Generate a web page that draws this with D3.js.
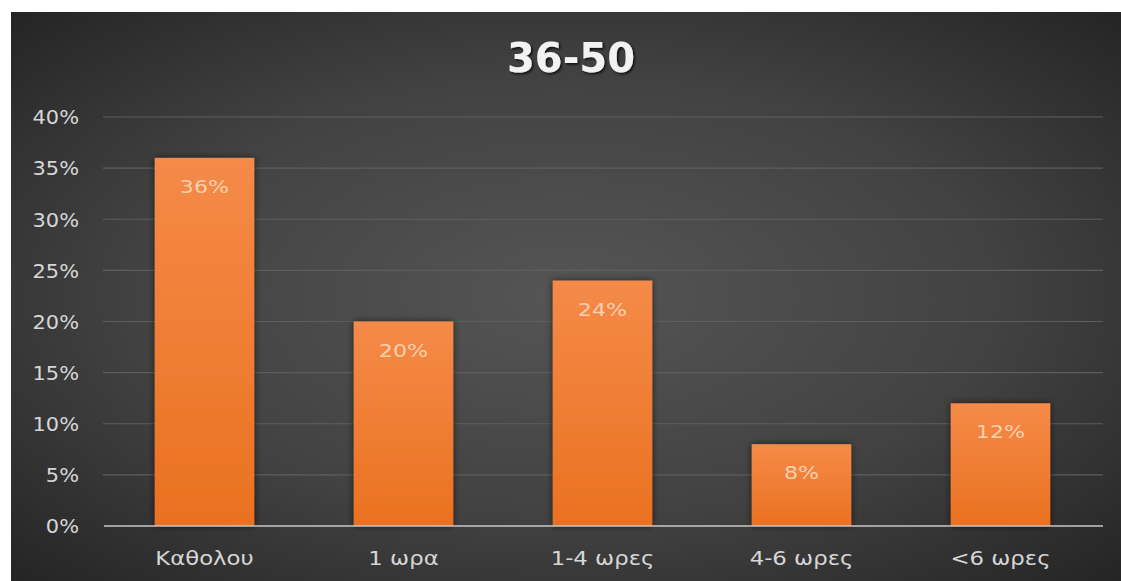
<!DOCTYPE html>
<html>
<head>
<meta charset="utf-8">
<script src="https://cdn.jsdelivr.net/npm/d3@7"></script>
<style>
  html, body { margin: 0; padding: 0; background: #ffffff; }
  svg { display: block; }
</style>
</head>
<body>
<svg id="chart" width="1121" height="581"></svg>
<script>
// Chart content
const title = "36-50";
const categories = ["Καθολου", "1 ωρα", "1-4 ωρες", "4-6 ωρες", "<6 ωρες"];
const values = [0.36, 0.20, 0.24, 0.08, 0.12];
const yTicks = [0, 0.05, 0.10, 0.15, 0.20, 0.25, 0.30, 0.35, 0.40];

const W = 1121, H = 581;
const panel = { x: 11, y: 12, w: W - 11, h: H - 12 };
const plot = { left: 105, right: 1100, top: 117, bottom: 526 };
const FONT = "DejaVu Sans, Verdana, sans-serif";
const WIDE = "scale(1.2,1)";   // the chart's text is set slightly wide

const svg = d3.select("#chart");
const defs = svg.append("defs");

// Dark radial background
const bg = defs.append("radialGradient").attr("id", "bgGrad")
  .attr("cx", "50%").attr("cy", "50%").attr("r", "70%");
bg.append("stop").attr("offset", "0%").attr("stop-color", "#555555");
bg.append("stop").attr("offset", "55%").attr("stop-color", "#424242");
bg.append("stop").attr("offset", "100%").attr("stop-color", "#252525");

// Bar fill gradient
const barGrad = defs.append("linearGradient").attr("id", "barGrad")
  .attr("x1", 0).attr("y1", 0).attr("x2", 0).attr("y2", 1);
barGrad.append("stop").attr("offset", "0%").attr("stop-color", "#f58a48");
barGrad.append("stop").attr("offset", "100%").attr("stop-color", "#ea7120");

// Soft dark shadow around bars
const sh = defs.append("filter").attr("id", "barShadow")
  .attr("x", "-30%").attr("y", "-30%").attr("width", "160%").attr("height", "160%");
sh.append("feDropShadow").attr("dx", 0).attr("dy", 0).attr("stdDeviation", 3.5)
  .attr("flood-color", "#000").attr("flood-opacity", 0.6);

// Title shadow
const tsh = defs.append("filter").attr("id", "titleShadow")
  .attr("x", "-20%").attr("y", "-30%").attr("width", "140%").attr("height", "160%");
tsh.append("feDropShadow").attr("dx", 1.5).attr("dy", 1.5).attr("stdDeviation", 1.2)
  .attr("flood-color", "#000").attr("flood-opacity", 0.8);

svg.append("rect")
  .attr("x", panel.x).attr("y", panel.y)
  .attr("width", panel.w).attr("height", panel.h)
  .attr("fill", "url(#bgGrad)");

// Scales
const x = d3.scaleBand().domain(categories)
  .range([plot.left, plot.right]).paddingInner(0.5).paddingOuter(0.25);
const y = d3.scaleLinear().domain([0, 0.40]).range([plot.bottom, plot.top]);
const pct = d3.format(".0%");

// Gridlines
svg.append("g")
  .selectAll("line")
  .data(yTicks.filter(d => d > 0))
  .join("line")
  .attr("x1", plot.left - 2).attr("x2", plot.right + 3)
  .attr("y1", d => y(d)).attr("y2", d => y(d))
  .attr("stroke", "#5e5e5e").attr("stroke-width", 1.2);

// Y axis labels
const yAxis = d3.axisLeft(y).tickValues(yTicks).tickFormat(pct).tickSize(0).tickPadding(0);
const gy = svg.append("g").attr("transform", `translate(${plot.left - 26},0)`).call(yAxis);
gy.select(".domain").remove();
gy.selectAll("text")
  .attr("fill", "#d6d6d6")
  .attr("font-family", FONT)
  .attr("font-size", 19)
  .attr("dy", "0.36em")
  .attr("transform", "scale(1.1,1)");

// Bars
svg.append("g")
  .selectAll("rect")
  .data(values)
  .join("rect")
  .attr("x", (d, i) => x(categories[i]))
  .attr("y", d => y(d))
  .attr("width", x.bandwidth())
  .attr("height", d => y(0) - y(d))
  .attr("fill", "url(#barGrad)")
  .attr("filter", "url(#barShadow)");

// Value labels inside the bars
svg.append("g")
  .selectAll("g")
  .data(values)
  .join("g")
  .attr("transform", (d, i) => `translate(${x(categories[i]) + x.bandwidth() / 2},${y(d) + 35})`)
  .append("text")
  .attr("text-anchor", "middle")
  .attr("fill", "#f9d0b0")
  .attr("font-family", FONT)
  .attr("font-size", 18.5)
  .attr("transform", WIDE)
  .text(d => pct(d));

// Baseline
svg.append("line")
  .attr("x1", plot.left - 1).attr("x2", plot.right + 3)
  .attr("y1", y(0)).attr("y2", y(0))
  .attr("stroke", "#c8c8c8").attr("stroke-width", 1.5);

// X axis labels
const xAxis = d3.axisBottom(x).tickSize(0).tickPadding(0);
const gx = svg.append("g").attr("transform", `translate(0,${plot.bottom + 39})`).call(xAxis);
gx.select(".domain").remove();
gx.selectAll("text")
  .attr("fill", "#d6d6d6")
  .attr("font-family", FONT)
  .attr("font-size", 19)
  .attr("dy", 0)
  .attr("transform", WIDE);

// Title
svg.append("text")
  .attr("x", 571).attr("y", 72)
  .attr("text-anchor", "middle")
  .attr("fill", "#f2f2f2")
  .attr("font-family", FONT)
  .attr("font-weight", "bold")
  .attr("font-size", 40)
  .attr("filter", "url(#titleShadow)")
  .text(title);
</script>
</body>
</html>
